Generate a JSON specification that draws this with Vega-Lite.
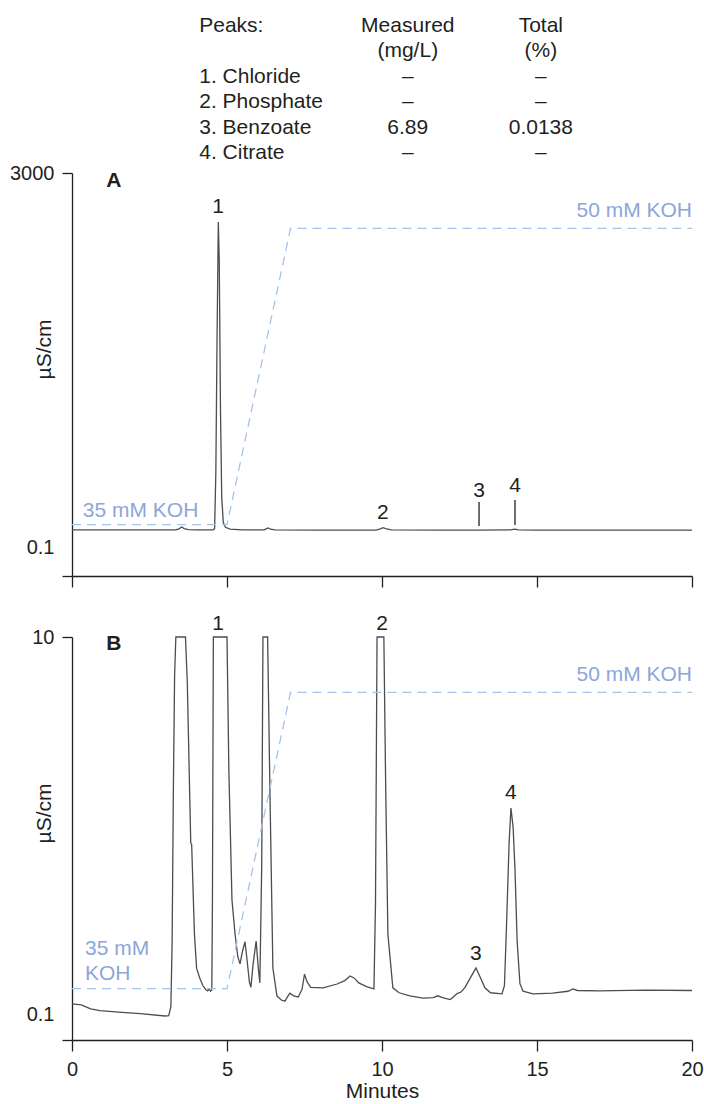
{
  "$schema": "https://vega.github.io/schema/vega-lite/v6.json",
  "padding": {"left": 9, "top": 15, "right": 0, "bottom": 0},
  "background": "white",
  "config": {
    "font": "Liberation Sans",
    "view": {"stroke": null},
    "axis": {
      "domainColor": "#231f20", "tickColor": "#231f20", "labelColor": "#231f20", "titleColor": "#231f20",
      "labelFont": "Liberation Sans", "titleFont": "Liberation Sans", "labelFontSize": 20, "titleFontSize": 21,
      "titleFontWeight": "normal", "domainWidth": 1.3, "tickWidth": 1.3, "grid": false,
      "labelFlush": false, "labelOverlap": false
    },
    "text": {"font": "Liberation Sans", "fontSize": 21, "color": "#231f20"}
  },
  "datasets": {
    "table": [
      {"row": 1, "col": "Peaks", "text": "Peaks:"},
      {"row": 1, "col": "Measured", "text": "Measured"},
      {"row": 1, "col": "Total", "text": "Total"},
      {"row": 2, "col": "Peaks", "text": ""},
      {"row": 2, "col": "Measured", "text": "(mg/L)"},
      {"row": 2, "col": "Total", "text": "(%)"},
      {"row": 3, "col": "Peaks", "text": "1. Chloride"},
      {"row": 3, "col": "Measured", "text": "–"},
      {"row": 3, "col": "Total", "text": "–"},
      {"row": 4, "col": "Peaks", "text": "2. Phosphate"},
      {"row": 4, "col": "Measured", "text": "–"},
      {"row": 4, "col": "Total", "text": "–"},
      {"row": 5, "col": "Peaks", "text": "3. Benzoate"},
      {"row": 5, "col": "Measured", "text": "6.89"},
      {"row": 5, "col": "Total", "text": "0.0138"},
      {"row": 6, "col": "Peaks", "text": "4. Citrate"},
      {"row": 6, "col": "Measured", "text": "–"},
      {"row": 6, "col": "Total", "text": "–"}
    ],
    "traceA": [
      {"t": 0, "v": 140}, {"t": 1.0, "v": 140}, {"t": 2.0, "v": 139}, {"t": 3.0, "v": 139},
      {"t": 3.35, "v": 140}, {"t": 3.45, "v": 148}, {"t": 3.54, "v": 163}, {"t": 3.62, "v": 150},
      {"t": 3.75, "v": 141}, {"t": 4.0, "v": 139}, {"t": 4.55, "v": 139}, {"t": 4.6, "v": 150},
      {"t": 4.64, "v": 600}, {"t": 4.68, "v": 1700}, {"t": 4.72, "v": 2607}, {"t": 4.75, "v": 2300},
      {"t": 4.79, "v": 1100}, {"t": 4.83, "v": 400}, {"t": 4.88, "v": 200}, {"t": 4.95, "v": 160},
      {"t": 5.1, "v": 145}, {"t": 5.5, "v": 140}, {"t": 6.2, "v": 140}, {"t": 6.28, "v": 150},
      {"t": 6.33, "v": 155}, {"t": 6.4, "v": 145}, {"t": 6.55, "v": 139}, {"t": 8.0, "v": 138},
      {"t": 9.8, "v": 138}, {"t": 9.95, "v": 148}, {"t": 10.03, "v": 157}, {"t": 10.12, "v": 150},
      {"t": 10.3, "v": 140}, {"t": 12.0, "v": 137}, {"t": 13.13, "v": 138}, {"t": 14.15, "v": 139},
      {"t": 14.28, "v": 145}, {"t": 14.4, "v": 140}, {"t": 15.0, "v": 138}, {"t": 17.0, "v": 137},
      {"t": 20.0, "v": 137}
    ],
    "traceB": [
      {"t": 0.0, "v": 0.37}, {"t": 0.3, "v": 0.34}, {"t": 0.6, "v": 0.24}, {"t": 0.9, "v": 0.19},
      {"t": 1.5, "v": 0.15}, {"t": 2.2, "v": 0.11}, {"t": 3.0, "v": 0.05}, {"t": 3.12, "v": 0.06},
      {"t": 3.19, "v": 0.3}, {"t": 3.23, "v": 2.0}, {"t": 3.27, "v": 6.0}, {"t": 3.31, "v": 9.0},
      {"t": 3.35, "v": 10}, {"t": 3.66, "v": 10}, {"t": 3.72, "v": 8.8}, {"t": 3.78, "v": 6.5},
      {"t": 3.83, "v": 4.6}, {"t": 3.86, "v": 4.55}, {"t": 3.9, "v": 3.5}, {"t": 3.95, "v": 2.2},
      {"t": 4.02, "v": 1.3}, {"t": 4.12, "v": 1.05}, {"t": 4.22, "v": 0.85}, {"t": 4.32, "v": 0.74},
      {"t": 4.38, "v": 0.71}, {"t": 4.42, "v": 0.76}, {"t": 4.47, "v": 0.70}, {"t": 4.51, "v": 0.74},
      {"t": 4.53, "v": 3.0}, {"t": 4.56, "v": 10}, {"t": 5.0, "v": 10}, {"t": 5.06, "v": 6.5},
      {"t": 5.16, "v": 3.1}, {"t": 5.26, "v": 2.2}, {"t": 5.35, "v": 1.6}, {"t": 5.42, "v": 1.42},
      {"t": 5.5, "v": 1.75}, {"t": 5.58, "v": 2.0}, {"t": 5.65, "v": 1.5}, {"t": 5.72, "v": 0.95},
      {"t": 5.77, "v": 0.8}, {"t": 5.84, "v": 1.4}, {"t": 5.94, "v": 2.02}, {"t": 6.01, "v": 1.3},
      {"t": 6.06, "v": 0.92}, {"t": 6.12, "v": 4.0}, {"t": 6.16, "v": 10}, {"t": 6.31, "v": 10},
      {"t": 6.39, "v": 5.7}, {"t": 6.48, "v": 1.31}, {"t": 6.61, "v": 0.58}, {"t": 6.75, "v": 0.47},
      {"t": 6.87, "v": 0.44}, {"t": 6.95, "v": 0.55}, {"t": 7.03, "v": 0.65}, {"t": 7.15, "v": 0.58},
      {"t": 7.3, "v": 0.55}, {"t": 7.42, "v": 0.75}, {"t": 7.5, "v": 1.15}, {"t": 7.58, "v": 0.95},
      {"t": 7.7, "v": 0.80}, {"t": 8.1, "v": 0.79}, {"t": 8.55, "v": 0.89}, {"t": 8.8, "v": 0.98},
      {"t": 8.97, "v": 1.10}, {"t": 9.1, "v": 1.05}, {"t": 9.25, "v": 0.92}, {"t": 9.5, "v": 0.82},
      {"t": 9.74, "v": 0.76}, {"t": 9.79, "v": 3.0}, {"t": 9.84, "v": 10}, {"t": 10.06, "v": 10},
      {"t": 10.12, "v": 6.0}, {"t": 10.19, "v": 2.2}, {"t": 10.35, "v": 0.79}, {"t": 10.55, "v": 0.66},
      {"t": 10.9, "v": 0.58}, {"t": 11.32, "v": 0.52}, {"t": 11.65, "v": 0.53}, {"t": 11.8, "v": 0.58},
      {"t": 11.95, "v": 0.53}, {"t": 12.2, "v": 0.48}, {"t": 12.32, "v": 0.56}, {"t": 12.42, "v": 0.64},
      {"t": 12.55, "v": 0.68}, {"t": 12.68, "v": 0.8}, {"t": 12.85, "v": 1.05}, {"t": 13.03, "v": 1.31},
      {"t": 13.18, "v": 1.05}, {"t": 13.32, "v": 0.79}, {"t": 13.5, "v": 0.66}, {"t": 13.87, "v": 0.63},
      {"t": 13.95, "v": 0.85}, {"t": 14.02, "v": 2.5}, {"t": 14.1, "v": 4.6}, {"t": 14.16, "v": 5.51},
      {"t": 14.23, "v": 5.0}, {"t": 14.29, "v": 3.9}, {"t": 14.36, "v": 2.0}, {"t": 14.45, "v": 0.9},
      {"t": 14.55, "v": 0.7}, {"t": 14.87, "v": 0.63}, {"t": 15.5, "v": 0.65}, {"t": 16.0, "v": 0.7},
      {"t": 16.16, "v": 0.76}, {"t": 16.3, "v": 0.72}, {"t": 17.0, "v": 0.71}, {"t": 18.5, "v": 0.73},
      {"t": 20.0, "v": 0.72}
    ],
    "koh": [
      {"t": 0, "koh": 35}, {"t": 5.0, "koh": 35}, {"t": 7.05, "koh": 50}, {"t": 20, "koh": 50}
    ],
    "kohLabelsA": [
      {"level": "start", "t": 0.35, "koh": 35.71, "label": "35 mM KOH"},
      {"level": "end", "t": 20, "koh": 50.86, "label": "50 mM KOH"}
    ],
    "kohLabelsB": [
      {"level": "start", "t": 0.42, "koh": 37.03, "label": "35 mM"},
      {"level": "start", "t": 0.42, "koh": 35.76, "label": "KOH"},
      {"level": "end", "t": 20, "koh": 50.86, "label": "50 mM KOH"}
    ],
    "peaksA": [
      {"t": 4.71, "v": 2727, "label": "1"},
      {"t": 10.03, "v": 275, "label": "2"},
      {"t": 13.13, "v": 451, "label": "3"},
      {"t": 14.29, "v": 491, "label": "4"}
    ],
    "markersA": [
      {"t": 13.13, "v": 363, "v2": 171},
      {"t": 14.29, "v": 379, "v2": 179}
    ],
    "peaksB": [
      {"t": 4.71, "v": 10.34, "label": "1"},
      {"t": 10.0, "v": 10.34, "label": "2"},
      {"t": 13.03, "v": 1.68, "label": "3"},
      {"t": 14.16, "v": 5.9, "label": "4"}
    ],
    "letterA": [{"t": 1.35, "v": 2936, "label": "A"}],
    "letterB": [{"t": 1.35, "v": 9.82, "label": "B"}]
  },
  "spacing": 20,
  "bounds": "flush",
  "vconcat": [
    {
      "width": 620,
      "height": 127,
      "data": {"name": "table"},
      "layer": [
        {
          "transform": [{"filter": "datum.col === 'Peaks'"}],
          "mark": {"type": "text", "align": "left", "baseline": "middle", "dx": -75.5},
          "encoding": {
            "x": {"field": "col", "type": "nominal", "sort": null, "axis": null,
                  "scale": {"type": "point", "domain": ["Peaks", "Measured", "Total", "—"], "padding": 0.83, "align": 0.918}},
            "y": {"field": "row", "type": "ordinal", "axis": null, "scale": {"type": "point", "padding": 0, "domain": [1, 2, 3, 4, 5, 6]}},
            "text": {"field": "text"}
          }
        },
        {
          "transform": [{"filter": "datum.col !== 'Peaks'"}],
          "mark": {"type": "text", "align": "center", "baseline": "middle"},
          "encoding": {
            "x": {"field": "col", "type": "nominal", "sort": null, "axis": null,
                  "scale": {"type": "point", "domain": ["Peaks", "Measured", "Total", "—"], "padding": 0.83, "align": 0.918}},
            "y": {"field": "row", "type": "ordinal", "axis": null, "scale": {"type": "point", "padding": 0, "domain": [1, 2, 3, 4, 5, 6]}},
            "text": {"field": "text"}
          }
        }
      ]
    },
    {
      "spacing": 61,
      "bounds": "flush",
      "vconcat": [
        {
          "width": 620,
          "height": 403,
          "layer": [
            {
              "data": {"name": "traceA"},
              "mark": {"type": "line", "color": "#4d4d4d", "strokeWidth": 1.3},
              "encoding": {
                "x": {"field": "t", "type": "quantitative", "scale": {"domain": [0, 20], "nice": false},
                      "axis": {"values": [0, 5, 10, 15, 20], "labels": false, "title": null, "tickSize": 11}},
                "y": {"field": "v", "type": "quantitative", "scale": {"domain": [-230, 3000], "nice": false, "zero": false},
                      "axis": {"values": [-230, 0.1, 3000], "title": "µS/cm", "titleX": -22, "titleY": 176, "titleBaseline": "alphabetic",
                               "tickSize": 10, "labelPadding": 8,
                               "labelExpr": "datum.value == 3000 ? '3000' : (datum.value == 0.1 ? '0.1' : '')",
                               "tickOpacity": {"condition": {"test": "datum.value == 0.1", "value": 0}, "value": 1}}}
              }
            },
            {
              "data": {"name": "peaksA"},
              "mark": {"type": "text", "align": "center", "baseline": "middle"},
              "encoding": {
                "x": {"field": "t", "type": "quantitative", "scale": {"domain": [0, 20], "nice": false}},
                "y": {"field": "v", "type": "quantitative", "axis": null, "scale": {"domain": [-230, 3000], "nice": false, "zero": false}},
                "text": {"field": "label"}
              }
            },
            {
              "data": {"name": "markersA"},
              "mark": {"type": "rule", "color": "#231f20", "strokeWidth": 1.3},
              "encoding": {
                "x": {"field": "t", "type": "quantitative", "scale": {"domain": [0, 20], "nice": false}},
                "y": {"field": "v", "type": "quantitative", "axis": null, "scale": {"domain": [-230, 3000], "nice": false, "zero": false}},
                "y2": {"field": "v2"}
              }
            },
            {
              "data": {"name": "letterA"},
              "mark": {"type": "text", "align": "center", "baseline": "middle", "fontWeight": "bold"},
              "encoding": {
                "x": {"field": "t", "type": "quantitative", "scale": {"domain": [0, 20], "nice": false}},
                "y": {"field": "v", "type": "quantitative", "axis": null, "scale": {"domain": [-230, 3000], "nice": false, "zero": false}},
                "text": {"field": "label"}
              }
            },
            {
              "data": {"name": "koh"},
              "mark": {"type": "line", "color": "#a6c4e8", "strokeWidth": 1.3, "strokeDash": [9, 6]},
              "encoding": {
                "x": {"field": "t", "type": "quantitative", "scale": {"domain": [0, 20], "nice": false}},
                "y": {"field": "koh", "type": "quantitative", "axis": null, "scale": {"domain": [32.4, 52.8], "nice": false, "zero": false}}
              }
            },
            {
              "data": {"name": "kohLabelsA"},
              "transform": [{"filter": "datum.level === 'start'"}],
              "mark": {"type": "text", "align": "left", "baseline": "middle", "color": "#8da6d8"},
              "encoding": {
                "x": {"field": "t", "type": "quantitative", "scale": {"domain": [0, 20], "nice": false}},
                "y": {"field": "koh", "type": "quantitative", "axis": null, "scale": {"domain": [32.4, 52.8], "nice": false, "zero": false}},
                "text": {"field": "label"}
              }
            },
            {
              "data": {"name": "kohLabelsA"},
              "transform": [{"filter": "datum.level === 'end'"}],
              "mark": {"type": "text", "align": "right", "baseline": "middle", "color": "#8da6d8"},
              "encoding": {
                "x": {"field": "t", "type": "quantitative", "scale": {"domain": [0, 20], "nice": false}},
                "y": {"field": "koh", "type": "quantitative", "axis": null, "scale": {"domain": [32.4, 52.8], "nice": false, "zero": false}},
                "text": {"field": "label"}
              }
            }
          ],
          "resolve": {"scale": {"y": "independent"}}
        },
        {
          "width": 620,
          "height": 403,
          "layer": [
            {
              "data": {"name": "traceB"},
              "mark": {"type": "line", "color": "#4d4d4d", "strokeWidth": 1.3},
              "encoding": {
                "x": {"field": "t", "type": "quantitative", "scale": {"domain": [0, 20], "nice": false},
                      "axis": {"values": [0, 5, 10, 15, 20], "title": "Minutes", "tickSize": 11, "labelPadding": 8, "titlePadding": 1}},
                "y": {"field": "v", "type": "quantitative", "scale": {"domain": [-0.58, 10], "nice": false, "zero": false},
                      "axis": {"values": [-0.58, 0.1, 10], "title": "µS/cm", "titleX": -22, "titleY": 176, "titleBaseline": "alphabetic",
                               "tickSize": 10, "labelPadding": 8,
                               "labelExpr": "datum.value == 10 ? '10' : (datum.value == 0.1 ? '0.1' : '')",
                               "tickOpacity": {"condition": {"test": "datum.value == 0.1", "value": 0}, "value": 1}}}
              }
            },
            {
              "data": {"name": "peaksB"},
              "mark": {"type": "text", "align": "center", "baseline": "middle"},
              "encoding": {
                "x": {"field": "t", "type": "quantitative", "scale": {"domain": [0, 20], "nice": false}},
                "y": {"field": "v", "type": "quantitative", "axis": null, "scale": {"domain": [-0.58, 10], "nice": false, "zero": false}},
                "text": {"field": "label"}
              }
            },
            {
              "data": {"name": "letterB"},
              "mark": {"type": "text", "align": "center", "baseline": "middle", "fontWeight": "bold"},
              "encoding": {
                "x": {"field": "t", "type": "quantitative", "scale": {"domain": [0, 20], "nice": false}},
                "y": {"field": "v", "type": "quantitative", "axis": null, "scale": {"domain": [-0.58, 10], "nice": false, "zero": false}},
                "text": {"field": "label"}
              }
            },
            {
              "data": {"name": "koh"},
              "mark": {"type": "line", "color": "#a6c4e8", "strokeWidth": 1.3, "strokeDash": [9, 6]},
              "encoding": {
                "x": {"field": "t", "type": "quantitative", "scale": {"domain": [0, 20], "nice": false}},
                "y": {"field": "koh", "type": "quantitative", "axis": null, "scale": {"domain": [32.4, 52.8], "nice": false, "zero": false}}
              }
            },
            {
              "data": {"name": "kohLabelsB"},
              "transform": [{"filter": "datum.level === 'start'"}],
              "mark": {"type": "text", "align": "left", "baseline": "middle", "color": "#8da6d8"},
              "encoding": {
                "x": {"field": "t", "type": "quantitative", "scale": {"domain": [0, 20], "nice": false}},
                "y": {"field": "koh", "type": "quantitative", "axis": null, "scale": {"domain": [32.4, 52.8], "nice": false, "zero": false}},
                "text": {"field": "label"}
              }
            },
            {
              "data": {"name": "kohLabelsB"},
              "transform": [{"filter": "datum.level === 'end'"}],
              "mark": {"type": "text", "align": "right", "baseline": "middle", "color": "#8da6d8"},
              "encoding": {
                "x": {"field": "t", "type": "quantitative", "scale": {"domain": [0, 20], "nice": false}},
                "y": {"field": "koh", "type": "quantitative", "axis": null, "scale": {"domain": [32.4, 52.8], "nice": false, "zero": false}},
                "text": {"field": "label"}
              }
            }
          ],
          "resolve": {"scale": {"y": "independent"}}
        }
      ]
    }
  ]
}
